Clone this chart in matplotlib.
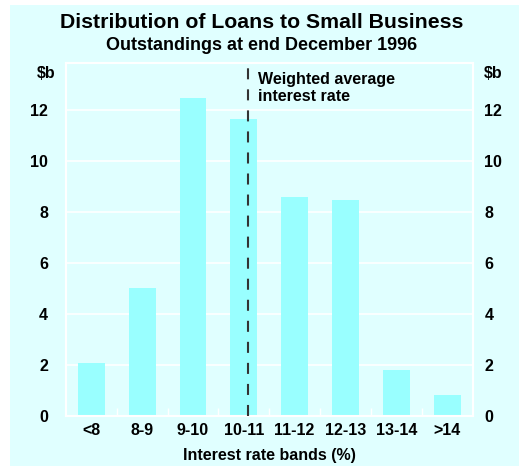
import matplotlib.pyplot as plt
from matplotlib.patches import Rectangle

# Datos del grafico
bands = ["<8", "8-9", "9-10", "10-11", "11-12", "12-13", "13-14", ">14"]
loans = [2.07, 5.02, 12.47, 11.63, 8.59, 8.47, 1.80, 0.81]  # $b
y_ticks = [0, 2, 4, 6, 8, 10, 12]
avg_rate_pos = 3.08  # posicion de la tasa media ponderada en el eje x

BG = "#e0ffff"
BAR = "#99ffff"
FS = 11.5

plt.rcParams['font.family'] = ['Liberation Sans', 'DejaVu Sans']
plt.rcParams['font.weight'] = 'bold'

fig = plt.figure(figsize=(5.19, 4.66), dpi=100)
fig.patch.set_facecolor("white")
# Fondo celeste (deja un borde blanco arriba e izquierda)
fig.patches.append(Rectangle((10 / 519, 0), 1, 1 - 5 / 466, transform=fig.transFigure,
                             facecolor=BG, edgecolor="none", zorder=-10))

ax = fig.add_axes([66 / 519, 1 - 416 / 466, (472.5 - 66) / 519, (416 - 62.7) / 466])
ax.set_facecolor(BG)

x = range(len(bands))
ax.bar(x, loans, width=0.53, color=BAR, zorder=2)

# Linea de tasa media ponderada
ax.axvline(avg_rate_pos, color="#333333", lw=1.5, dashes=(5.3, 4.8), zorder=3)
ax.text(avg_rate_pos + 0.2, 13.5, "Weighted average\ninterest rate", fontsize=FS,
        fontweight="bold", va="top", ha="left", linespacing=1.2, zorder=4)

ax.set_xlim(-0.5, len(bands) - 0.5)
ax.set_ylim(0, 13.85)

# Grilla blanca
ax.set_yticks(y_ticks)
ax.grid(axis="y", color="white", lw=1.2, zorder=1)
ax.set_axisbelow(True)
for s in ax.spines.values():
    s.set_color("white")
    s.set_linewidth(1.5)
ax.tick_params(axis="y", length=0, labelsize=FS, pad=13)

# Eje derecho con las mismas etiquetas
ax2 = ax.twinx()
ax2.set_ylim(ax.get_ylim())
ax2.set_yticks(y_ticks)
ax2.tick_params(axis="y", length=0, labelsize=FS, pad=8.5)
for s in ax2.spines.values():
    s.set_visible(False)

ax.set_xticks(list(x))
ax.set_xticklabels(bands)
ax.tick_params(axis="x", which="major", length=0, pad=5, labelsize=FS)
# Marcas blancas entre categorias
ax.set_xticks([i + 0.5 for i in range(len(bands) - 1)], minor=True)
ax.tick_params(axis="x", which="minor", direction="in", length=6, width=1, color="white")

ax.set_xlabel("Interest rate bands (%)", fontsize=FS, fontweight="bold", labelpad=7)

# Unidades
fig.text(37 / 519, 1 - 73 / 466, "$b", fontsize=FS, fontweight="bold", va="center", ha="left")
fig.text(484 / 519, 1 - 73 / 466, "$b", fontsize=FS, fontweight="bold", va="center", ha="left")

# Titulos
fig.text(262 / 519, 1 - 22 / 466, "Distribution of Loans to Small Business",
         fontsize=15.3, fontweight="bold", ha="center", va="center")
fig.text(262 / 519, 1 - 46 / 466, "Outstandings at end December 1996",
         fontsize=13, fontweight="bold", ha="center", va="center")

fig.savefig("out.png", dpi=100, facecolor=fig.get_facecolor())
